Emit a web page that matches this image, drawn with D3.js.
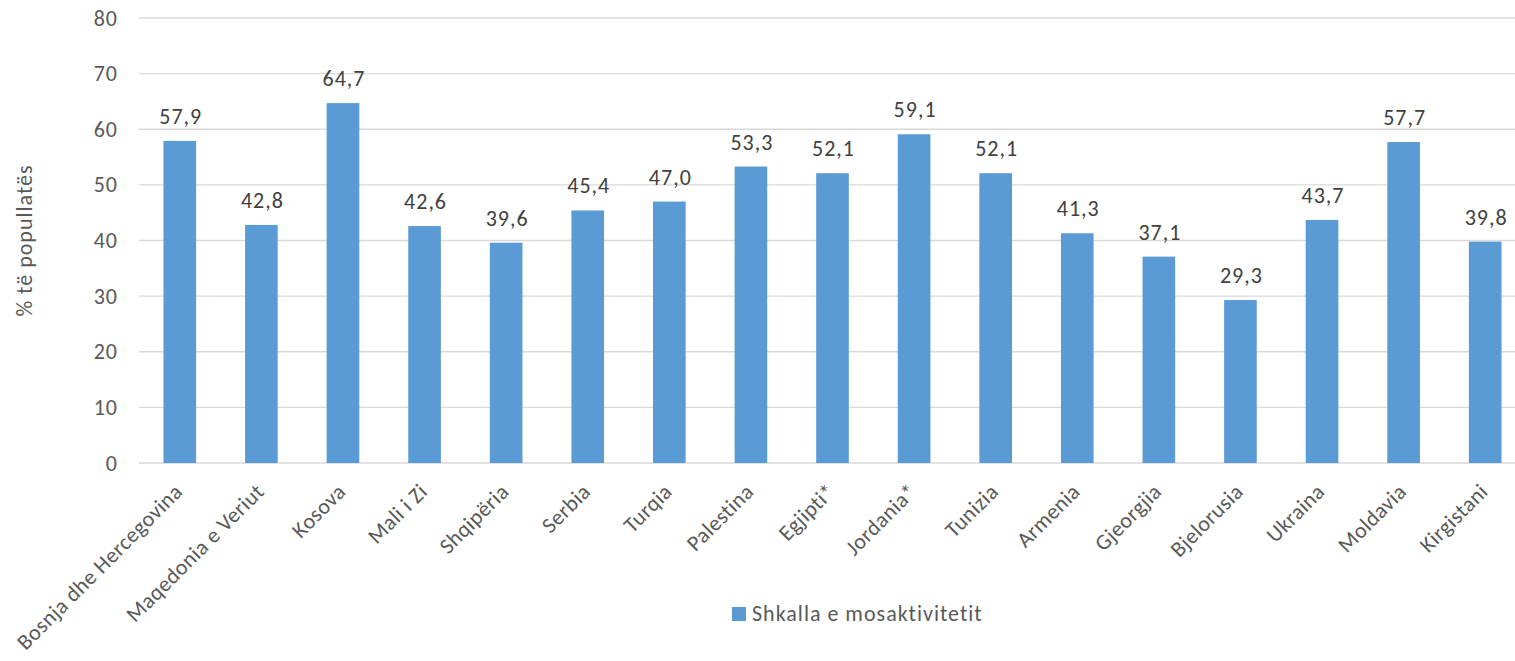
<!DOCTYPE html>
<html>
<head>
<meta charset="utf-8">
<script src="https://cdn.jsdelivr.net/npm/d3@7"></script>
<style>
  body { margin: 0; background: #fff; }
  svg text { font-family: Carlito, Calibri, "Open Sans", sans-serif; font-size: 22px; letter-spacing: 1px; }
</style>
</head>
<body>
<div id="chart"></div>
<script>
// data
var countries = ['Bosnja dhe Hercegovina', 'Maqedonia e Veriut', 'Kosova', 'Mali i Zi', 'Shqipëria',
  'Serbia', 'Turqia', 'Palestina', 'Egjipti*', 'Jordania*', 'Tunizia', 'Armenia', 'Gjeorgjia',
  'Bjelorusia', 'Ukraina', 'Moldavia', 'Kirgistani'];
var inactivity = [57.9, 42.8, 64.7, 42.6, 39.6, 45.4, 47.0, 53.3, 52.1, 59.1, 52.1, 41.3, 37.1, 29.3, 43.7, 57.7, 39.8];
var yTicks = [0, 10, 20, 30, 40, 50, 60, 70, 80];
var seriesName = 'Shkalla e mosaktivitetit';
var yTitle = '% të popullatës';

var svgWidth = 1515, svgHeight = 661;
var margin = {top: 18, right: -11, bottom: 198, left: 139};
var width = svgWidth - margin.left - margin.right;
var height = svgHeight - margin.top - margin.bottom;

var svg = d3.select('#chart').append('svg')
  .attr('width', svgWidth)
  .attr('height', svgHeight);

var chartGroup = svg.append('g')
  .attr('transform', `translate(${margin.left}, ${margin.top})`);

var xScale = d3.scaleBand()
  .domain(countries)
  .range([0, width])
  .paddingInner(0.6)
  .paddingOuter(0.3);

var yScale = d3.scaleLinear()
  .domain([0, 80])
  .range([height, 0]);

// gridlines
chartGroup.append('g')
  .selectAll('line')
  .data(yTicks)
  .enter()
  .append('line')
  .attr('x1', 0)
  .attr('x2', width)
  .attr('y1', d => yScale(d))
  .attr('y2', d => yScale(d))
  .attr('stroke', '#d9d9d9')
  .attr('stroke-width', 1.3);

// y axis labels
var leftAxis = d3.axisLeft(yScale).tickValues(yTicks).tickSize(0).tickPadding(21);
var yAxis = chartGroup.append('g').call(leftAxis);
yAxis.select('.domain').remove();
yAxis.selectAll('text')
  .attr('fill', '#595959')
  .style('font-size', '22px')
  .style('font-family', null);

// bars
chartGroup.selectAll('rect.bar')
  .data(inactivity)
  .enter()
  .append('rect')
  .attr('class', 'bar')
  .attr('x', (d, i) => xScale(countries[i]))
  .attr('y', d => yScale(d))
  .attr('width', xScale.bandwidth())
  .attr('height', d => height - yScale(d))
  .attr('fill', '#5b9bd5');

// value labels
chartGroup.selectAll('text.val')
  .data(inactivity)
  .enter()
  .append('text')
  .attr('class', 'val')
  .attr('x', (d, i) => xScale(countries[i]) + xScale.bandwidth() / 2 + 1)
  .attr('y', d => yScale(d) - 17)
  .attr('text-anchor', 'middle')
  .attr('fill', '#404040')
  .text(d => d3.format('.1f')(d).replace('.', ','));

// x axis labels, rotated
var bottomAxis = d3.axisBottom(xScale).tickSize(0).tickPadding(0);
var xAxis = chartGroup.append('g')
  .attr('transform', `translate(0, ${height})`)
  .call(bottomAxis);
xAxis.select('.domain').remove();
xAxis.selectAll('text')
  .attr('fill', '#595959')
  .style('font-size', '22px')
  .style('font-family', null)
  .style('letter-spacing', '0.4px')
  .attr('text-anchor', 'end')
  .attr('dy', null)
  .attr('y', 0)
  .attr('transform', 'translate(4, 30) rotate(-45)');

// y axis title
svg.append('text')
  .attr('transform', `translate(32, ${margin.top + height / 2}) rotate(-90)`)
  .attr('text-anchor', 'middle')
  .attr('fill', '#595959')
  .text(yTitle);

// legend
var legend = svg.append('g').attr('transform', 'translate(732, 607)');
legend.append('rect')
  .attr('width', 14)
  .attr('height', 14)
  .attr('fill', '#5b9bd5');
legend.append('text')
  .attr('x', 20)
  .attr('y', 14)
  .attr('fill', '#595959')
  .text(seriesName);
</script>
</body>
</html>
